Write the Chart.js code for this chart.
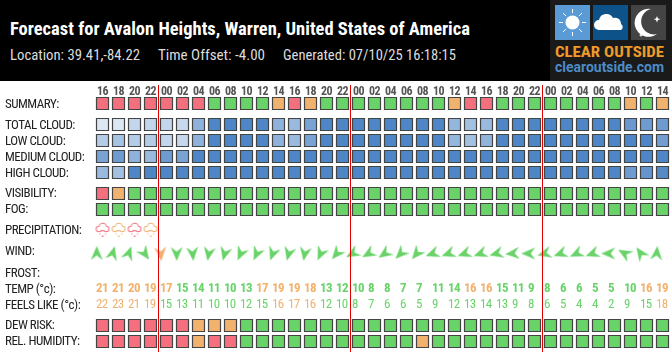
<!DOCTYPE html>
<html><head><meta charset="utf-8">
<script src="https://cdn.jsdelivr.net/npm/chart.js@4"></script>
<style>
html,body{margin:0;padding:0;background:#fff;overflow:hidden}
#wrap{position:relative;width:672px;height:352px}
#c{position:absolute;left:0;top:0}
#band{position:absolute;left:0;top:0;width:672px;height:81px;background:#000}
.h{position:absolute;white-space:nowrap;transform-origin:0 0;font-family:"Roboto Condensed","Roboto",sans-serif}
#logo{position:absolute;left:550px;top:0}
</style></head><body>
<div id="wrap">
<canvas id="c" width="672" height="352"></canvas>
<div id="band"></div>
<div class="h" data-w="460" style="left:10px;top:17px;font-size:19px;font-weight:700;color:#fff">Forecast for Avalon Heights, Warren, United States of America</div>
<div class="h" data-w="130" style="left:10px;top:46px;font-size:15px;color:#ddd">Location: 39.41,-84.22</div>
<div class="h" data-w="107" style="left:158px;top:46px;font-size:15px;color:#ddd">Time Offset: -4.00</div>
<div class="h" data-w="173" style="left:283px;top:46px;font-size:15px;color:#ddd">Generated: 07/10/25 16:18:15</div>
<svg id="logo" width="122" height="81" viewBox="0 0 122 81">
 <rect width="122" height="81" fill="#1a1a1a"/>
 <rect x="5" y="5" width="35" height="35" fill="#5b9bd5"/>
 <rect x="43" y="5" width="35" height="35" fill="#0d5288"/>
 <rect x="81" y="5" width="35" height="35" fill="#444"/>
 <circle cx="22.5" cy="22.500" r="7" fill="#fff"/>
 <g stroke="#fff" stroke-width="1">
  <path d="M22.5 9v4M22.5 32v4M9 22.5h4M32 22.5h4M13 13l3 3M29 29l3 3M13 32l3-3M29 16l3-3"/>
 </g>
 <path d="M49 30a5 5 0 0 1 0-10a7.500 7.500 0 0 1 14-2a6 6 0 0 1 8 6a3.500 3.500 0 0 1 0 6z" fill="#fff"/>
 <path d="M101 9a14 14 0 1 0 6 25a12.500 12.500 0 0 1-6-25z" fill="#fff"/>
 <path d="M107 16l1 2.500 2.500.5-2.500 1-1 2.500-1-2.500-2.500-1 2.500-.5zM87 22l.6 1.500 1.500.6-1.500.6-.6 1.500-.6-1.500-1.500-.6 1.500-.6zM91 33l.6 1.500 1.500.6-1.500.6-.6 1.500-.6-1.500-1.500-.6 1.500-.6z" fill="#fff"/>
 <text x="5" y="57" font-family="Roboto Condensed" font-weight="700" font-size="15" fill="#f09a2a" textLength="109" lengthAdjust="spacingAndGlyphs">CLEAR OUTSIDE</text>
 <text x="5" y="72" font-family="Roboto" font-weight="700" font-size="14" fill="#4d8cc5" textLength="109" lengthAdjust="spacingAndGlyphs">clearoutside.com</text>
</svg>
</div>
<script>
const hours=["16","18","20","22","00","02","04","06","08","10","12","14","16","18","20","22","00","02","04","06","08","10","12","14","16","18","20","22","00","02","04","06","08","10","12","14"];
const rowLabels=["SUMMARY:","TOTAL CLOUD:","LOW CLOUD:","MEDIUM CLOUD:","HIGH CLOUD:","VISIBILITY:","FOG:","PRECIPITATION:","WIND:","FROST:","TEMP (°c):","FEELS LIKE (°c):","DEW RISK:","REL. HUMIDITY:"];
// rating: 0 good (green), 1 fair (orange), 2 poor (red)
const summary=[2,2,2,2,2,2,2,0,0,0,0,1,2,1,0,0,0,0,0,0,0,0,1,2,2,0,0,0,0,0,0,0,0,1,0,1];
const visibility=[2,1,0,0,0,0,0,0,0,0,0,0,0,0,0,0,0,0,0,0,0,0,0,0,0,0,0,0,0,0,0,0,0,0,0,0];
const fog=[0,0,0,0,0,0,0,0,0,0,0,0,0,0,0,0,0,0,0,0,0,0,0,0,0,0,0,0,0,0,0,0,0,0,0,0];
const dewRisk=[2,2,2,2,2,2,1,1,1,0,0,0,0,0,0,0,0,0,0,0,0,0,0,0,0,0,0,0,0,0,0,0,0,0,0,0];
const humidity=[2,2,2,2,2,2,1,2,2,0,0,0,0,0,0,0,0,0,0,0,1,0,0,0,0,0,0,0,0,0,0,0,0,0,0,0];
const precipitation=[2,1,2,1];
// cloud cover, percent
const totalCloud=[20,20,34,34,34,31,64,100,100,100,100,64,58,76,100,100,100,100,100,100,100,100,61,52,58,100,100,100,100,100,100,100,100,84,82,82];
const lowCloud=[42,50,42,42,34,32,64,100,100,100,100,64,58,76,100,100,100,100,100,100,100,100,60,52,62,100,100,100,100,100,100,100,100,100,100,80];
const mediumCloud=[76,82,64,58,82,76,100,100,100,100,100,100,100,100,100,100,100,100,100,100,100,100,100,100,100,100,100,100,100,100,100,100,100,100,100,100];
const highCloud=[58,52,100,100,100,100,100,100,100,100,100,100,100,100,100,100,100,100,100,100,100,100,100,100,100,100,100,100,100,100,100,100,100,82,88,96];
// wind heading, degrees clockwise from up
const windDir=[0,15,20,145,175,180,175,190,195,205,205,200,195,190,205,220,240,240,235,225,220,250,250,250,250,255,265,270,255,250,245,250,270,300,325,5];
const windRating=[0,0,0,0,1,0,0,0,0,0,0,0,0,0,0,0,0,0,0,0,0,0,0,0,0,0,0,0,0,0,0,0,0,0,0,0];
const temp=[21,21,20,19,17,15,14,11,10,13,17,19,19,18,13,12,10,8,8,7,7,11,14,16,16,15,11,9,8,6,6,5,5,10,16,19];
const feelsLike=[22,23,21,19,15,13,11,10,10,12,15,16,17,16,12,10,8,7,6,6,5,9,12,13,14,13,9,8,6,5,4,4,2,9,15,18];
const dayBreaks=[3.5,15.5,27.5];

// layout (row positions in units of one grid pitch)
const rowPos=[0,1.3125,2.3125,3.3125,4.3125,5.625,6.625,7.906,9.375,10.56,11.56,12.56,13.875,14.875];
const labelPos=[0.05,1.36,2.36,3.36,4.36,5.67,6.67,7.95,9.27,10.61,11.61,12.61,13.92,14.92];
const ROW={summary:0,total:1,low:2,medium:3,high:4,vis:5,fog:6,precip:7,wind:8,frost:9,temp:10,feels:11,dew:12,rh:13};
const FONT='"Roboto Condensed","Roboto",sans-serif';
const RATE=['#69d36a','#f2b26f','#f4707f'];
const EDGE='#444444';
const cloudColor=p=>{const t=p/100,m=(a,b)=>Math.round(a+(b-a)*t);return `rgb(${m(255,79)},${m(255,134)},${m(255,198)})`;};
const R=6/Math.SQRT1_2;
function cells(values,row,color){
  return {type:'scatter',data:values.map((v,i)=>({x:i,y:rowPos[row]})),
    backgroundColor:values.map(color),borderColor:EDGE,borderWidth:1.2,pointRadius:R,pointHoverRadius:R,pointStyle:'rect',clip:false,order:2};
}
function icon(size,draw){const c=document.createElement('canvas');c.width=c.height=size;draw(c.getContext('2d'),size/2);return c;}
const arrowIcons=RATE.map(col=>icon(20,(g,m)=>{g.translate(m,m);g.fillStyle=col;g.beginPath();g.moveTo(0,-7.5);g.lineTo(6,6.5);g.lineTo(0,2);g.lineTo(-6,6.5);g.closePath();g.fill();}));
const cloudIcons=RATE.map(col=>icon(18,(g,m)=>{g.translate(m,m);
  const blobs=[[-3.6,-1,3.2],[0.3,-3,4.2],[3.8,-1,3.2]];
  const paint=d=>{g.beginPath();blobs.forEach(([x,y,r])=>{g.moveTo(x+r-d,y);g.arc(x,y,r-d,0,Math.PI*2);});g.fill();};
  g.fillStyle=col;paint(0);
  g.globalCompositeOperation='destination-out';paint(1);
  g.globalCompositeOperation='source-over';g.fillStyle=col;
  g.fillRect(-3,3.5,1,1);g.fillRect(2.5,3.5,1,1);g.fillRect(-0.5,5.5,1.5,1.5);}));

const tempColor=v=>v>=16?'#f2b26f':'#69d36a';
const textRows={id:'textRows',
 beforeDraw(ch){ch.ctx.letterSpacing='-0.5px';},
 beforeDatasetsDraw(ch){
  const g=ch.ctx,xs=ch.scales.x,ys=ch.scales.y;
  g.save();g.letterSpacing='-0.6px';g.textAlign='left';g.textBaseline='middle';
  [[temp,ROW.temp,'700 13px '+FONT],[feelsLike,ROW.feels,'400 13px '+FONT]].forEach(([vals,row,f])=>{
    g.font=f;vals.forEach((v,i)=>{g.fillStyle=tempColor(v);g.fillText(String(v),xs.getPixelForValue(i)-6.5,ys.getPixelForValue(rowPos[row]));});
  });
  g.restore();
}};
const noPad=s=>{s.paddingLeft=s.paddingRight=s.paddingTop=s.paddingBottom=0;};
const datasets=[
  ...dayBreaks.map(b=>({type:'scatter',showLine:true,data:[{x:b,y:-1.15},{x:b,y:15.6}],borderColor:'#e30000',borderWidth:1,pointRadius:0,clip:false,order:0})),
  {type:'scatter',data:windDir.map((d,i)=>({x:i-0.36,y:rowPos[ROW.wind]})),pointStyle:windRating.map(r=>arrowIcons[r]),rotation:windDir,clip:false,order:1},
  {type:'scatter',data:precipitation.map((v,i)=>({x:i,y:rowPos[ROW.precip]})),pointStyle:precipitation.map(r=>cloudIcons[r]),clip:false,order:1},
  cells(summary,ROW.summary,v=>RATE[v]),
  cells(totalCloud,ROW.total,cloudColor),
  cells(lowCloud,ROW.low,cloudColor),
  cells(mediumCloud,ROW.medium,cloudColor),
  cells(highCloud,ROW.high,cloudColor),
  cells(visibility,ROW.vis,v=>RATE[v]),
  cells(fog,ROW.fog,v=>RATE[v]),
  cells(dewRisk,ROW.dew,v=>RATE[v]),
  cells(humidity,ROW.rh,v=>RATE[v])
];
new Chart(document.getElementById('c'),{
  type:'scatter',data:{datasets},plugins:[textRows],
  options:{responsive:false,animation:false,events:[],
    layout:{autoPadding:false,padding:{left:5,right:1.5,top:0,bottom:0.5}},
    plugins:{legend:{display:false},tooltip:{enabled:false},title:{display:false}},
    scales:{
      x:{type:'linear',position:'top',min:-0.5,max:35.5,
        afterBuildTicks(s){s.ticks=hours.map((h,i)=>({value:i}));},
        afterFit(s){s.height=95.5;noPad(s);},
        grid:{display:false,drawTicks:false},border:{display:false},
        ticks:{autoSkip:false,maxRotation:0,minRotation:0,padding:-4,color:'#555',font:{family:FONT,size:12,weight:'700'},callback:(v,i)=>hours[i]}},
      y:{type:'linear',position:'left',reverse:true,min:-0.5,max:15.5,
        afterBuildTicks(s){s.ticks=labelPos.map(p=>({value:p}));},
        afterFit(s){s.width=89.5;noPad(s);},
        grid:{display:false,drawTicks:false},border:{display:false},
        ticks:{autoSkip:false,crossAlign:'far',padding:0,color:'#222',font:{family:FONT,size:13},callback:(v,i)=>rowLabels[i]}}
    }}
});
document.querySelectorAll('.h[data-w]').forEach(el=>{
  const w=el.getBoundingClientRect().width;
  el.style.transform='scaleX('+(+el.dataset.w/w)+')';
});
</script>
</body></html>
